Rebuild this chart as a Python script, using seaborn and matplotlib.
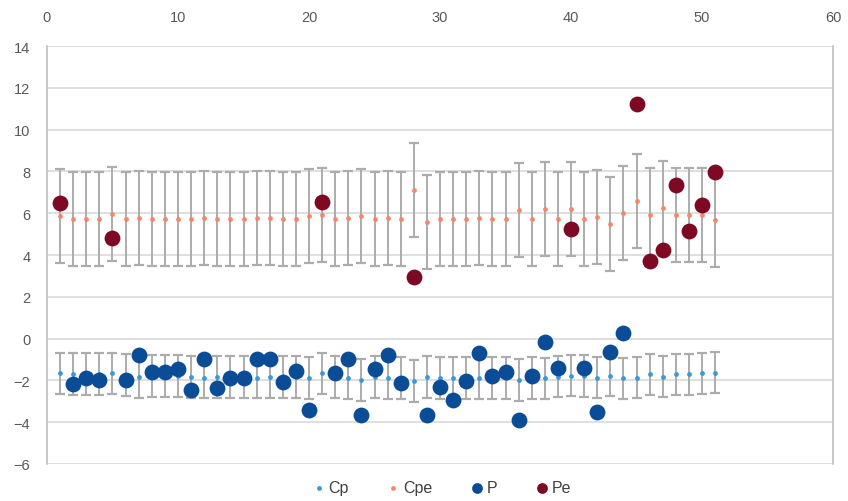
import numpy as np
import pandas as pd
import seaborn as sns
import matplotlib.pyplot as plt

# Datos
x_c = list(range(1, 52))

cp = [-1.67, -1.70, -1.70, -1.70, -1.67, -1.75, -1.83, -1.80, -1.80, -1.80,
      -1.85, -1.87, -1.85, -1.85, -1.85, -1.87, -1.83, -1.85, -1.85, -1.88,
      -1.67, -1.85, -1.88, -2.00, -1.85, -1.88, -1.90, -2.04, -1.85, -1.90,
      -1.88, -1.88, -1.88, -1.88, -1.88, -2.00, -1.90, -1.91, -1.82, -1.77,
      -1.80, -1.87, -1.77, -1.91, -1.87, -1.72, -1.82, -1.72, -1.72, -1.67,
      -1.63]
cp_err = 1.0

cpe = [5.85, 5.71, 5.71, 5.71, 5.98, 5.71, 5.79, 5.71, 5.71, 5.71,
       5.71, 5.79, 5.71, 5.71, 5.71, 5.79, 5.79, 5.71, 5.71, 5.85,
       5.90, 5.71, 5.77, 5.85, 5.74, 5.77, 5.71, 7.10, 5.60, 5.71,
       5.71, 5.71, 5.77, 5.71, 5.71, 6.14, 5.71, 6.19, 5.74, 6.20,
       5.71, 5.82, 5.50, 6.01, 6.57, 5.90, 6.25, 5.90, 5.93, 5.93,
       5.66]
cpe_err = 2.25

x_p = [2, 3, 4, 6, 7, 8, 9, 10, 11, 12, 13, 14, 15, 16, 17, 18, 19, 20,
       22, 23, 24, 25, 26, 27, 29, 30, 31, 32, 33, 34, 35, 36, 37, 38, 39,
       41, 42, 43, 44]
p = [-2.20, -1.87, -2.00, -2.00, -0.77, -1.60, -1.60, -1.44, -2.48, -0.96,
     -2.36, -1.87, -1.87, -0.96, -0.96, -2.10, -1.53, -3.44,
     -1.63, -1.00, -3.64, -1.47, -0.80, -2.15, -3.68, -2.30, -2.92, -2.05,
     -0.67, -1.77, -1.58, -3.92, -1.77, -0.15, -1.39,
     -1.39, -3.50, -0.63, 0.28]

x_pe = [1, 5, 21, 28, 40, 45, 46, 47, 48, 49, 50, 51]
pe = [6.51, 4.82, 6.54, 2.97, 5.23, 11.24, 3.70, 4.26, 7.34, 5.17, 6.41, 7.99]

sns.set_style('white')
plt.rcParams['font.family'] = ['Liberation Sans', 'DejaVu Sans']

fig = plt.figure(figsize=(8.48, 5.02), dpi=100)
ax = fig.add_axes([0.0554, 0.074, 0.927, 0.832])

# Barras de error grises
ax.errorbar(x_c, cp, yerr=cp_err, fmt='none', ecolor='#acacac',
            elinewidth=1.4, capsize=3.5, capthick=1.6, zorder=2)
ax.errorbar(x_c, cpe, yerr=cpe_err, fmt='none', ecolor='#acacac',
            elinewidth=1.4, capsize=3.5, capthick=1.6, zorder=2)

df_cp = pd.DataFrame({'x': x_c, 'y': cp})
df_cpe = pd.DataFrame({'x': x_c, 'y': cpe})
df_p = pd.DataFrame({'x': x_p, 'y': p})
df_pe = pd.DataFrame({'x': x_pe, 'y': pe})

sns.scatterplot(data=df_cp, x='x', y='y', ax=ax, color='#3a9ad9', s=12,
                linewidth=0, label='Cp', zorder=3)
sns.scatterplot(data=df_cpe, x='x', y='y', ax=ax, color='#f4876a', s=12,
                linewidth=0, label='Cpe', zorder=3)
sns.scatterplot(data=df_p, x='x', y='y', ax=ax, color='#0a4c96', s=130,
                linewidth=0, label='P', zorder=4)
sns.scatterplot(data=df_pe, x='x', y='y', ax=ax, color='#7d0a22', s=130,
                linewidth=0, label='Pe', zorder=4)

# Ejes
ax.set_xlim(0, 60)
ax.set_ylim(-6, 14)
ax.set_xticks(np.arange(0, 61, 10))
ax.set_yticks(np.arange(-6, 15, 2))
ax.xaxis.tick_top()
ax.set_xlabel('')
ax.set_ylabel('')
ax.tick_params(axis='both', labelsize=10.5, colors='#595959', length=0)
ax.tick_params(axis='y', pad=12)
ax.tick_params(axis='x', pad=16)
ax.grid(axis='y', color='#d9d9d9', linewidth=1.2)
ax.set_axisbelow(True)
for side in ['top', 'bottom']:
    ax.spines[side].set_visible(False)
for side in ['left', 'right']:
    ax.spines[side].set_color('#bfbfbf')
    ax.spines[side].set_linewidth(1.2)

leg = ax.legend(loc='upper center', bbox_to_anchor=(0.5, -0.005), ncol=4,
                frameon=False, fontsize=11.5, handletextpad=0.0,
                columnspacing=2.2, handlelength=1.2, labelcolor='#404040')
leg.legend_handles[2].set_sizes([60])
leg.legend_handles[3].set_sizes([60])

plt.savefig('out.png', dpi=100)
